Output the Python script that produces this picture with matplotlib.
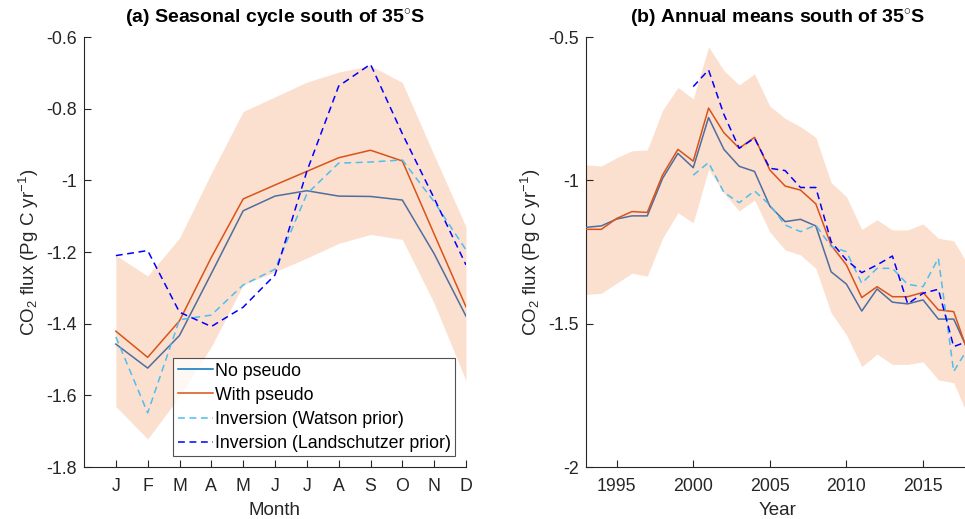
import matplotlib
matplotlib.use("Agg")
import matplotlib.pyplot as plt
import numpy as np
from matplotlib.ticker import FuncFormatter

plt.rcParams['font.family'] = ['Liberation Sans', 'DejaVu Sans']
plt.rcParams['axes.unicode_minus'] = False
plt.rcParams['mathtext.fontset'] = 'custom'
plt.rcParams['mathtext.rm'] = 'Liberation Sans'
plt.rcParams['mathtext.it'] = 'Liberation Sans:italic'

# ---- panel (a): seasonal cycle ----
months = np.arange(1, 13)
month_labels = ['J', 'F', 'M', 'A', 'M', 'J', 'J', 'A', 'S', 'O', 'N', 'D']
no_pseudo_mon = [-1.457, -1.524, -1.433, -1.26, -1.085, -1.044, -1.029, -1.044, -1.045, -1.055, -1.205, -1.379]
with_pseudo_mon = [-1.421, -1.494, -1.392, -1.215, -1.052, -1.013, -0.975, -0.937, -0.916, -0.946, -1.15, -1.353]
watson_mon = [-1.437, -1.649, -1.389, -1.376, -1.292, -1.248, -1.038, -0.952, -0.949, -0.943, -1.06, -1.194]
landsch_mon = [-1.210, -1.196, -1.368, -1.408, -1.354, -1.264, -0.975, -0.737, -0.676, -0.87, -1.05, -1.236]
band_hi_mon = [-1.209, -1.267, -1.161, -0.98, -0.808, -0.767, -0.726, -0.698, -0.680, -0.727, -0.93, -1.13]
band_lo_mon = [-1.631, -1.722, -1.603, -1.464, -1.292, -1.255, -1.217, -1.176, -1.151, -1.165, -1.343, -1.559]

# ---- panel (b): annual means ----
years = np.arange(1993, 2019)
inv_years = np.arange(2000, 2019)
no_pseudo_ann = [-1.164, -1.159, -1.135, -1.124, -1.124, -0.993, -0.906, -0.956, -0.781, -0.892,
                 -0.951, -0.969, -1.09, -1.144, -1.136, -1.159, -1.319, -1.362, -1.456, -1.379,
                 -1.425, -1.431, -1.417, -1.484, -1.484, -1.60]
with_pseudo_ann = [-1.171, -1.171, -1.133, -1.109, -1.112, -0.981, -0.892, -0.933, -0.748, -0.834,
                   -0.888, -0.850, -0.964, -1.020, -1.034, -1.082, -1.226, -1.295, -1.409, -1.371,
                   -1.406, -1.406, -1.391, -1.452, -1.458, -1.61]
watson_ann = [-0.982, -0.938, -1.042, -1.078, -1.037, -1.086, -1.156, -1.179, -1.156, -1.231,
              -1.249, -1.359, -1.307, -1.307, -1.363, -1.371, -1.272, -1.667, -1.58]
landsch_ann = [-0.673, -0.615, -0.77, -0.888, -0.853, -0.958, -0.966, -1.025, -1.025, -1.214,
               -1.278, -1.322, -1.295, -1.264, -1.431, -1.394, -1.380, -1.580, -1.56]
band_hi_ann = [-0.946, -0.950, -0.921, -0.897, -0.894, -0.755, -0.676, -0.716, -0.534, -0.617,
               -0.667, -0.629, -0.741, -0.784, -0.813, -0.850, -1.008, -1.057, -1.171, -1.138,
               -1.173, -1.173, -1.152, -1.202, -1.211, -1.30]
band_lo_ann = [-1.398, -1.394, -1.359, -1.324, -1.334, -1.202, -1.113, -1.148, -0.962, -1.045,
               -1.107, -1.069, -1.18, -1.243, -1.260, -1.307, -1.462, -1.539, -1.650, -1.606,
               -1.642, -1.642, -1.633, -1.696, -1.706, -1.83]

legend_labels = ['No pseudo', 'With pseudo', 'Inversion (Watson prior)', 'Inversion (Landschutzer prior)']

c_band = '#fbe0d0'
c_nop = '#4f6d9d'
c_wp = '#d95319'
c_wat = '#4dbeee'
c_lan = '#0000ff'
c_ax = '#262626'
dash = (4.5, 3)
ylab = 'CO$_2$ flux (Pg C yr$^{-1}$)'

fig = plt.figure(figsize=(9.65, 5.19), dpi=100)
ax1 = fig.add_axes([84 / 965, 52 / 519, 382 / 965, 430 / 519])
ax2 = fig.add_axes([586 / 965, 52 / 519, 383 / 965, 430 / 519])


def style(ax):
    for s in ['top', 'right']:
        ax.spines[s].set_visible(False)
    for s in ['left', 'bottom']:
        ax.spines[s].set_color(c_ax)
        ax.spines[s].set_linewidth(0.8)
    ax.tick_params(direction='in', length=5, width=0.8, colors=c_ax, labelsize=12.8)
    ax.tick_params(axis='y', pad=5)
    ax.tick_params(axis='x', pad=8)
    ax.yaxis.set_major_formatter(FuncFormatter(lambda v, p: '%g' % v))


# panel (a)
ax1.fill_between(months, band_lo_mon, band_hi_mon, color=c_band, lw=0, zorder=1)
ax1.plot(months, no_pseudo_mon, color=c_nop, lw=1.1, label=legend_labels[0], zorder=3)
ax1.plot(months, with_pseudo_mon, color=c_wp, lw=1.1, label=legend_labels[1], zorder=3)
ax1.plot(months, watson_mon, color=c_wat, lw=1.1, dashes=dash, label=legend_labels[2], zorder=3)
ax1.plot(months, landsch_mon, color=c_lan, lw=1.1, dashes=dash, label=legend_labels[3], zorder=3)
ax1.set_xlim(0, 12)
ax1.set_ylim(-1.8, -0.6)
ax1.set_xticks(months)
ax1.set_xticklabels(month_labels)
ax1.set_yticks(np.arange(-1.8, -0.59, 0.2))
style(ax1)
ax1.set_xlabel('Month', fontsize=13.5, color=c_ax, labelpad=5)
ax1.set_ylabel(ylab, fontsize=13.5, color=c_ax, labelpad=4)
ax1.set_title('(a) Seasonal cycle south of 35$^{\\circ}$S', fontsize=14, fontweight='bold', pad=10)
leg = ax1.legend(loc='lower right', fontsize=12.8, frameon=True, fancybox=False,
                 edgecolor=c_ax, handlelength=2.0, handletextpad=0.1, labelspacing=0.4,
                 borderpad=0.25, borderaxespad=0.6, bbox_to_anchor=(1.0, 0.0))
leg.get_frame().set_linewidth(0.8)
leg.get_lines()[0].set_color('#0072bd')

# panel (b)
ax2.fill_between(years, band_lo_ann, band_hi_ann, color=c_band, lw=0, zorder=1)
ax2.plot(years, no_pseudo_ann, color=c_nop, lw=1.1, zorder=3)
ax2.plot(years, with_pseudo_ann, color=c_wp, lw=1.1, zorder=3)
ax2.plot(inv_years, watson_ann, color=c_wat, lw=1.1, dashes=dash, zorder=3)
ax2.plot(inv_years, landsch_ann, color=c_lan, lw=1.1, dashes=dash, zorder=3)
ax2.set_xlim(1993, 2018)
ax2.set_ylim(-2, -0.5)
ax2.set_xticks([1995, 2000, 2005, 2010, 2015])
ax2.set_yticks([-2, -1.5, -1, -0.5])
style(ax2)
ax2.set_xlabel('Year', fontsize=13.5, color=c_ax, labelpad=5)
ax2.set_ylabel(ylab, fontsize=13.5, color=c_ax, labelpad=4)
ax2.set_title('(b) Annual means south of 35$^{\\circ}$S', fontsize=14, fontweight='bold', pad=10)

fig.savefig('out.png', dpi=100)
